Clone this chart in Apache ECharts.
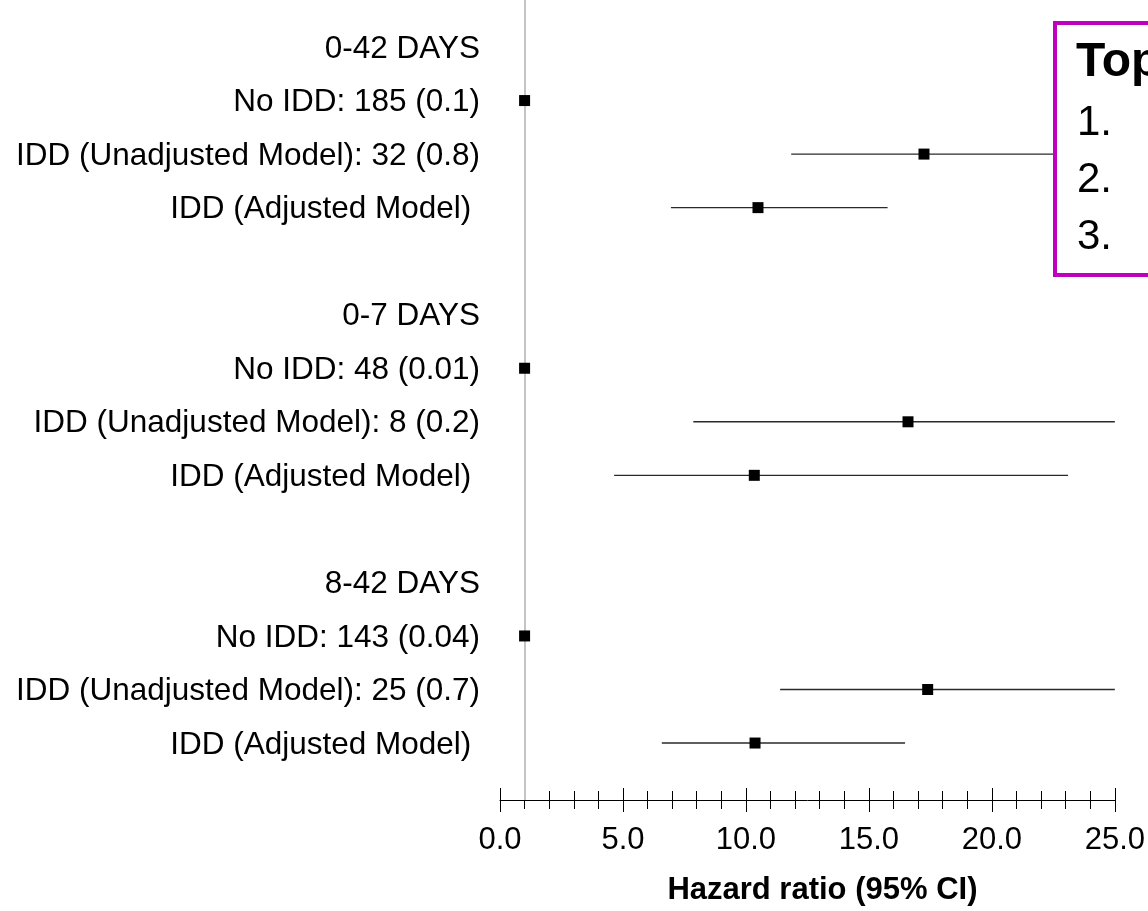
<!DOCTYPE html>
<html>
<head>
<meta charset="utf-8">
<script src="https://cdn.jsdelivr.net/npm/echarts@6/dist/echarts.min.js"></script>
<style>
html,body{margin:0;padding:0;background:#fff;}
#chart{width:1148px;height:911px;}
</style>
</head>
<body>
<div id="chart"></div>
<script>
// Row labels (top to bottom); empty strings are spacer rows
const rowLabels = [
  '0-42 DAYS',
  'No IDD: 185 (0.1)',
  'IDD (Unadjusted Model): 32 (0.8)',
  'IDD (Adjusted Model) ',
  '',
  '0-7 DAYS',
  'No IDD: 48 (0.01)',
  'IDD (Unadjusted Model): 8 (0.2)',
  'IDD (Adjusted Model) ',
  '',
  '8-42 DAYS',
  'No IDD: 143 (0.04)',
  'IDD (Unadjusted Model): 25 (0.7)',
  'IDD (Adjusted Model) '
];
// Hazard ratios (point estimates) per row
const hazardRatio = [null, 1.0, 17.24, 10.49, null, null, 1.0, 16.59, 10.34, null, null, 1.0, 17.39, 10.37];
// 95% CI lower / upper bounds per row
const ciLower = [null, null, 11.84, 6.95, null, null, null, 7.86, 4.64, null, null, null, 11.39, 6.58];
const ciUpper = [null, null, 25.0, 15.76, null, null, null, 25.0, 23.10, null, null, null, 25.0, 16.47];
// X axis
const xTickValues = [0, 5, 10, 15, 20, 25];
const referenceValue = 1;
const axisTitle = 'Hazard ratio (95% CI)';
const boxTitle = 'Top';
const boxItems = ['1.', '2.', '3.'];

const FONT = '"Liberation Sans", Arial, sans-serif';

const pointData = [];
const ciData = [];
const labelData = [];
hazardRatio.forEach((v, i) => { if (v !== null) pointData.push([v, i]); });
ciLower.forEach((lo, i) => { if (lo !== null) ciData.push([lo, ciUpper[i], i]); });
rowLabels.forEach((t, i) => { if (t) labelData.push([xTickValues[0], i, t]); });

const chart = echarts.init(document.getElementById('chart'), null, {renderer: 'canvas'});
const axisCommon = {
  type: 'value',
  min: xTickValues[0],
  max: xTickValues[xTickValues.length - 1],
  interval: 5,
  splitLine: {show: false}
};
chart.setOption({
  animation: false,
  backgroundColor: '#fff',
  grid: {left: 500, right: 31, top: 0, height: 800},
  xAxis: [
    Object.assign({}, axisCommon, {
      position: 'bottom',
      axisLine: {show: true, onZero: false, lineStyle: {color: '#000', width: 1}},
      axisTick: {show: true, inside: false, length: 12, lineStyle: {color: '#000', width: 1}},
      minorTick: {show: true, splitNumber: 5, length: 9, lineStyle: {color: '#000', width: 1}},
      axisLabel: {
        show: true, margin: 25, color: '#000', fontSize: 31, fontFamily: FONT,
        formatter: v => v.toFixed(1)
      },
      name: axisTitle,
      nameLocation: 'middle',
      nameGap: 75,
      nameTextStyle: {color: '#000', fontSize: 31, fontWeight: 'bold', fontFamily: FONT, padding: [0, 0, 0, 30]}
    }),
    Object.assign({}, axisCommon, {
      position: 'bottom',
      axisLine: {show: false, onZero: false},
      axisTick: {show: true, inside: true, length: 12, lineStyle: {color: '#000', width: 1}},
      minorTick: {show: true, splitNumber: 5, length: 9, lineStyle: {color: '#000', width: 1}},
      axisLabel: {show: false}
    })
  ],
  yAxis: {
    type: 'value',
    inverse: true,
    min: -0.878,
    max: 14.064,
    axisLine: {show: false},
    axisTick: {show: false},
    splitLine: {show: false},
    axisLabel: {show: false}
  },
  series: [
    {
      type: 'custom',
      xAxisIndex: 0,
      data: labelData,
      clip: false,
      silent: true,
      z: 3,
      renderItem: function (params, api) {
        const p = api.coord([api.value(0), api.value(1)]);
        return {
          type: 'text',
          x: p[0] - 20,
          y: p[1] + 2,
          style: {
            text: labelData[params.dataIndex][2],
            font: '31.5px ' + FONT,
            fill: '#000',
            align: 'right',
            verticalAlign: 'middle'
          }
        };
      }
    },
    {
      type: 'custom',
      xAxisIndex: 0,
      data: ciData,
      clip: true,
      z: 2,
      renderItem: function (params, api) {
        const p1 = api.coord([api.value(0), api.value(2)]);
        const p2 = api.coord([api.value(1), api.value(2)]);
        return {
          type: 'line',
          shape: {x1: p1[0], y1: p1[1], x2: p2[0], y2: p2[1]},
          style: {stroke: '#2a2a2a', lineWidth: 1.4}
        };
      }
    },
    {
      type: 'scatter',
      xAxisIndex: 0,
      data: pointData,
      symbol: 'rect',
      symbolSize: 11,
      itemStyle: {color: '#000', opacity: 1},
      z: 4,
      markLine: {
        silent: true,
        symbol: 'none',
        label: {show: false},
        lineStyle: {color: '#c4c4c4', width: 2, type: 'solid'},
        data: [{xAxis: referenceValue}],
        z: 1
      }
    }
  ],
  graphic: [
    {
      type: 'rect', z: 100,
      shape: {x: 1055, y: 23, width: 200, height: 252},
      style: {fill: '#fff', stroke: '#BF00BF', lineWidth: 4}
    },
    {
      type: 'text', z: 101, x: 1076, y: 63,
      style: {text: boxTitle, font: 'bold 48px ' + FONT, fill: '#000', verticalAlign: 'middle'}
    }
  ].concat(boxItems.map((t, i) => ({
    type: 'text', z: 101, x: 1077, y: 123 + i * 57,
    style: {text: t, font: '42px ' + FONT, fill: '#000', verticalAlign: 'middle'}
  })))
});
</script>
</body>
</html>
